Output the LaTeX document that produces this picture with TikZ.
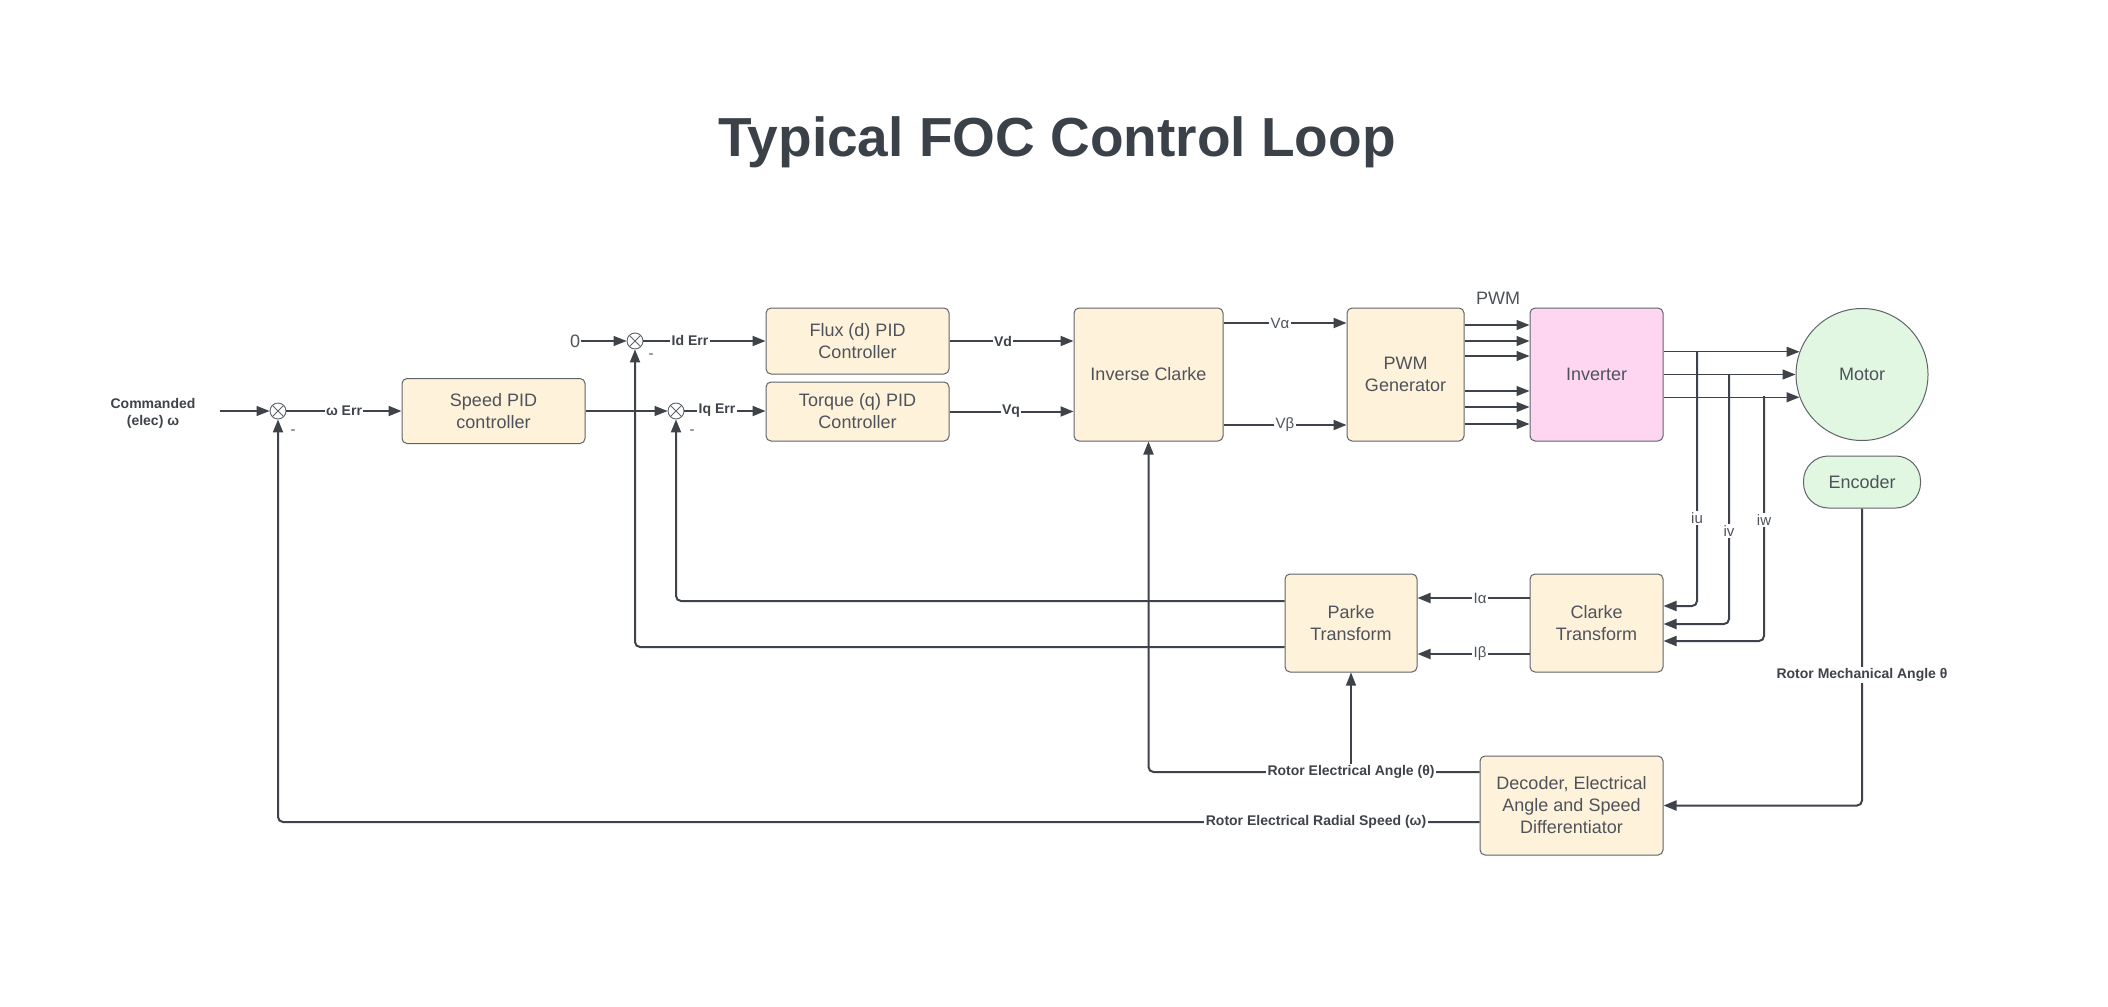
\documentclass[tikz,border=0pt]{standalone}
\usepackage{fontspec}
\setmainfont{Liberation Sans}
\usetikzlibrary{arrows.meta,calc}
\definecolor{ink}{HTML}{3E434A}
\definecolor{txt}{HTML}{4E535B}
\definecolor{ttlc}{HTML}{3B4149}
\definecolor{cream}{HTML}{FFF2DB}
\definecolor{pinkf}{HTML}{FFD6F1}
\definecolor{greenf}{HTML}{E2F7E2}
\definecolor{edge}{HTML}{5F646B}
\tikzset{
  blk/.style={draw=edge, line width=1pt, fill=cream, rounded corners=5pt, align=center,
    text=txt, font=\fontsize{18}{22}\selectfont, inner sep=0pt},
  sumnode/.style={circle, draw=edge, fill=white, line width=0.9pt, minimum size=16pt, inner sep=0pt,
    path picture={\draw[edge,line width=0.8pt]
      (path picture bounding box.north west) -- (path picture bounding box.south east)
      (path picture bounding box.north east) -- (path picture bounding box.south west);}},
  thk/.style={draw=ink, line width=2pt, rounded corners=5pt},
  thn/.style={draw=ink, line width=1.1pt, rounded corners=5pt},
  arr/.style={-{Triangle[length=13pt,width=10pt]}},
  lbl/.style={fill=white, inner sep=1.5pt, text=ink, font=\bfseries\fontsize{14}{17}\selectfont},
  rlbl/.style={fill=white, inner sep=1.5pt, text=txt, font=\fontsize{15}{17}\selectfont},
  zlbl/.style={inner sep=1pt, text=txt, font=\fontsize{18}{20}\selectfont},
  minus/.style={inner sep=0pt, text=txt, font=\fontsize{15}{16}\selectfont},
  ttl/.style={text=ttlc, font=\bfseries\fontsize{55}{60}\selectfont}
}
\begin{document}
\begin{tikzpicture}[x=1pt,y=-1pt]
\useasboundingbox (0,0) rectangle (2108,1006);
\fill[white] (0,0) rectangle (2108,1006);

\node[ttl] (title) at (1057,142) {Typical FOC Control Loop};

% blocks
\node[blk, minimum width=183pt, minimum height=65pt] (speed) at (493.5,411) {Speed PID\\controller};
\node[blk, minimum width=183pt, minimum height=66pt] (flux) at (857.5,341) {Flux (d) PID\\Controller};
\node[blk, minimum width=183pt, minimum height=59pt] (torque) at (857.5,411.5) {Torque (q) PID\\Controller};
\node[blk, minimum width=149pt, minimum height=133pt] (iclarke) at (1148.5,374.5) {Inverse Clarke};
\node[blk, minimum width=117pt, minimum height=133pt] (pwmgen) at (1405.5,374.5) {PWM\\Generator};
\node[blk, fill=pinkf, minimum width=133pt, minimum height=133pt] (inverter) at (1596.5,374.5) {Inverter};
\node[circle, draw=edge, line width=1pt, fill=greenf, minimum size=132pt, inner sep=0pt,
      text=txt, font=\fontsize{18}{22}\selectfont] (motor) at (1862,374.5) {Motor};
\node[blk, fill=greenf, rounded corners=25pt, minimum width=117pt, minimum height=52pt] (encoder) at (1862,482) {Encoder};
\node[blk, minimum width=133pt, minimum height=98pt] (clarke) at (1596.5,623) {Clarke\\Transform};
\node[blk, minimum width=132pt, minimum height=98pt] (parke) at (1351,623) {Parke\\Transform};
\node[blk, minimum width=183pt, minimum height=99pt] (decoder) at (1571.5,805.5) {Decoder, Electrical\\Angle and Speed\\Differentiator};

% summing junctions
\node[sumnode] (s1) at (278,411) {};
\node[sumnode] (s2) at (635,341) {};
\node[sumnode] (s3) at (676,411) {};

\node[zlbl] (zero) at (575,341) {0};
\coordinate (cin) at (220,411);
\node[align=center, text=ink, font=\bfseries\fontsize{14}{17}\selectfont] (cmd) at (153,413) {Commanded\\(elec) ω};

% helper y-levels
\coordinate (yVa) at (0,323);
\coordinate (yVb) at (0,425);
\coordinate (yu) at (0,606);
\coordinate (yv) at (0,624);
\coordinate (yw) at (0,641);
\coordinate (yIa) at (0,598);
\coordinate (yIb) at (0,654);
\coordinate (yPq) at (0,601);
\coordinate (yPd) at (0,647);
\coordinate (yAng) at (0,772);
\coordinate (ySpd) at (0,822);
\coordinate (tu) at (1697,352);
\coordinate (tv) at (1729,374.5);
\coordinate (tw) at (1764,396);

% forward path
\draw[thn,arr] (cin) -- (s1.west);
\draw[thk,arr] (s1.east) -- (s1.east -| speed.west);
\draw[thn,arr] (zero.east) -- (s2.west);
\draw[thk,arr] (s2.east) -- (s2.east -| flux.west);
\draw[thn,arr] (speed.east |- s3) -- (s3.west);
\draw[thk,arr] (s3.east) -- (s3.east -| torque.west);
\draw[thk,arr] (flux.east) -- (flux.east -| iclarke.west);
\draw[thk,arr] (torque.east) -- (torque.east -| iclarke.west);
\draw[thk,arr] (iclarke.east |- yVa) -- (pwmgen.west |- yVa);
\draw[thk,arr] (iclarke.east |- yVb) -- (pwmgen.west |- yVb);
\foreach \yy in {325,341,356,391,407,424}{
  \coordinate (tmp) at (0,\yy);
  \draw[thn,arr] (pwmgen.east |- tmp) -- (inverter.west |- tmp);
}
\draw[thn,arr] (inverter.east |- motor.160) -- (motor.160);
\draw[thn,arr] (inverter.east |- motor.west) -- (motor.west);
\draw[thn,arr] (inverter.east |- motor.200) -- (motor.200);

% current taps
\draw[thk,arr] (tu) |- (clarke.east |- yu);
\draw[thk,arr] (tv) |- (clarke.east |- yv);
\draw[thk,arr] (tw) |- (clarke.east |- yw);
\draw[thk,arr] (clarke.west |- yIa) -- (parke.east |- yIa);
\draw[thk,arr] (clarke.west |- yIb) -- (parke.east |- yIb);

% feedback
\draw[thk,arr] (parke.west |- yPq) -| (s3.south);
\draw[thk,arr] (parke.west |- yPd) -| (s2.south);
\draw[thk,arr] (decoder.west |- yAng) -| (iclarke.south);
\draw[thn,arr] (parke.south |- yAng) -- (parke.south);
\draw[thk,arr] (decoder.west |- ySpd) -| (s1.south);
\draw[thk,arr] (encoder.south) |- (decoder.east);

% labels
\node[lbl] (lwerr) at (344,411) {ω Err};
\node[lbl] (lid) at (690,340) {Id Err};
\node[lbl] (liq) at (717,410) {Iq Err};
\node[lbl] (lvd) at (1003,341) {Vd};
\node[lbl] (lvq) at (1011,411) {Vq};
\node[rlbl] (lva) at (1280,323) {Vα};
\node[rlbl] (lvb) at (1285,425) {Vβ};
\node[zlbl] (lpwm) at (1498,298) {PWM};
\node[rlbl] (liu) at (1697,518) {iu};
\node[rlbl] (liv) at (1729,531) {iv};
\node[rlbl] (liw) at (1764,520) {iw};
\node[rlbl] (lia) at (1480,598) {Iα};
\node[rlbl] (lib) at (1480,654) {Iβ};
\node[lbl] (lang) at (1351,772) {Rotor Electrical Angle (θ)};
\node[lbl] (lspd) at (1316,822) {Rotor Electrical Radial Speed (ω)};
\node[lbl] (lmech) at (1862,675) {Rotor Mechanical Angle θ};
\node[minus] (m1) at (293,432) {-};
\node[minus] (m2) at (651,356) {-};
\node[minus] (m3) at (692,432) {-};
\end{tikzpicture}
\end{document}
